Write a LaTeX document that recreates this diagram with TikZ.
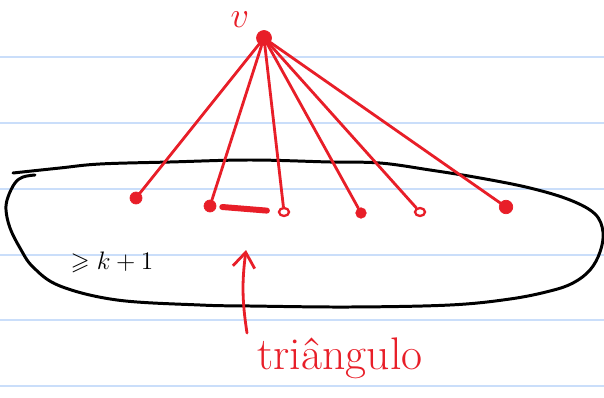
\documentclass[tikz,border=0pt]{standalone}
\usepackage{amssymb}
\usetikzlibrary{arrows.meta,shapes.geometric}
\definecolor{ink}{RGB}{232,30,40}
\definecolor{rule}{RGB}{202,222,250}
\tikzset{
  vtx/.style     = {circle, fill=ink, draw=ink, minimum size=3mm, inner sep=0pt},
  dotfill/.style = {circle, fill=ink, draw=ink, minimum size=2.4mm, inner sep=0pt},
  dotopen/.style = {ellipse, draw=ink, line width=1.3pt, minimum width=2mm, minimum height=1.6mm, inner sep=0pt},
  edge/.style    = {draw=ink, line width=1.6pt, line cap=round},
  triedge/.style = {draw=ink, line width=3.4pt, line cap=round, shorten <=1.2mm, shorten >=2.2mm},
  hand/.style    = {text=ink, font=\fontsize{26}{30}\selectfont, inner sep=0pt},
  paper/.style   = {draw=rule, line width=1.1pt},
  pointer/.style = {draw=ink, line width=1.6pt, line cap=round,
                    -{Straight Barb[length=3mm, width=4.4mm, line width=1.6pt]}},
}

\begin{document}
\begin{tikzpicture}[x=0.02cm, y=-0.02cm]

  \useasboundingbox (0,0) rectangle (604,398);
  \fill[white] (0,0) rectangle (604,398);

  % notebook lines
  \foreach \y in {57,123,189,255,320,386}
    \draw[paper] (0,\y) -- (604,\y);

  % the set
  \draw[line width=1.7pt, line cap=round] plot[smooth, tension=0.6] coordinates {
    (13,173) (60,168) (100,164) (170,162) (250,160) (330,162) (380,163)
    (430,170) (480,178) (530,188) (570,200) (595,214) (603,232) (600,252)
    (590,270) (573,283) (550,291) (510,299) (450,305) (350,307) (250,306)
    (200,305) (117,300) (60,286) (33,267) (20,248) (10,228) (6,210)
    (8,197) (15,183) (23,177) (35,175)};

  \node[vtx]     (v)  at (264,38)  {};
  \node[hand, font=\fontsize{22}{26}\selectfont] (vl) at (240,20) {$v$};
  \node[dotfill] (u1) at (136,198) {};
  \node[dotfill] (u2) at (210,206) {};
  \node[dotopen] (u3) at (284,212) {};
  \node[dotfill, minimum size=2.1mm] (u4) at (361,213) {};
  \node[dotopen] (u5) at (420,212) {};
  \node[dotfill, minimum size=2.7mm] (u6) at (506,207) {};

  \draw[edge] (v) -- (u1);
  \draw[edge] (v) -- (u2);
  \draw[edge] (v) -- (u3);
  \draw[edge] (v) -- (u4);
  \draw[edge] (v) -- (u5);
  \draw[edge] (v) -- (u6);
  \draw[triedge] (u2) -- (u3);

  \node[font=\fontsize{14}{17}\selectfont, inner sep=0pt] (deg) at (112,262) {$\geqslant k+1$};

  \coordinate (tail) at (247,333);
  \coordinate (tip)  at (246,250);
  \draw[pointer] (tail) to[bend left=8] (tip);
  \node[hand] (tri) at (340,358) {triângulo};

\end{tikzpicture}
\end{document}
